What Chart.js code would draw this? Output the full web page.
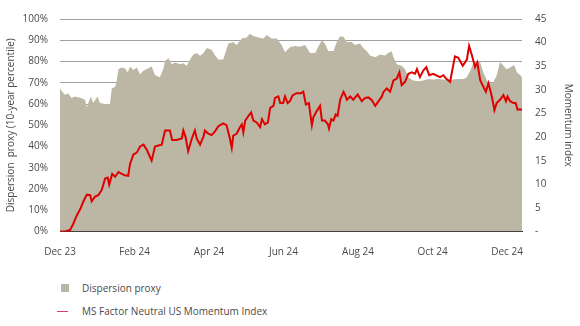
<!DOCTYPE html>
<html>
<head>
<meta charset="utf-8">
<script src="https://cdn.jsdelivr.net/npm/chart.js@4"></script>
<style>
  body { margin: 0; background: #fff; font-family: 'Open Sans', sans-serif; }
  #wrap { position: relative; width: 580px; height: 326px; }
  #chart { display: block; }
  .legend { position: absolute; left: 0; top: 0; font-size: 10px; color: #4a4a4a; }
  .legend .row { position: absolute; white-space: nowrap; line-height: 14px; }
  .legend .box { position: absolute; left: 61px; top: 284px; width: 8px; height: 8px; background: #bcb7a5; }
  .legend .line { position: absolute; left: 57px; top: 311px; width: 11px; height: 1px; background: #d9405a; }
</style>
</head>
<body>
<div id="wrap">
  <canvas id="chart"></canvas>
  <div class="legend">
    <div class="box"></div>
    <div class="row" style="left:82px; top:281px;">Dispersion proxy</div>
    <div class="line"></div>
    <div class="row" style="left:82px; top:304px;">MS Factor Neutral US Momentum Index</div>
  </div>
</div>
<script>
// x positions are months since start of Dec 2023
const tickLabels = ['Dec 23', 'Feb 24', 'Apr 24', 'Jun 24', 'Aug 24', 'Oct 24', 'Dec 24'];

const dispersionMonths = [0.00, 0.05, 0.13, 0.22, 0.31, 0.40, 0.54, 0.67, 0.72, 0.76, 0.83, 0.89, 1.01, 1.07, 1.21, 1.34, 1.39, 1.48, 1.52, 1.57,
    1.64, 1.74, 1.82, 1.88, 1.97, 2.06, 2.15, 2.24, 2.37, 2.46, 2.55, 2.68, 2.77, 2.82, 2.91, 3.00, 3.09, 3.22, 3.31, 3.40,
    3.49, 3.58, 3.67, 3.76, 3.85, 3.94, 4.07, 4.16, 4.25, 4.38, 4.52, 4.65, 4.74, 4.88, 5.01, 5.10, 5.19, 5.32, 5.46, 5.55,
    5.68, 5.82, 5.95, 6.04, 6.17, 6.31, 6.44, 6.58, 6.71, 6.85, 6.93, 7.03, 7.11, 7.20, 7.34, 7.43, 7.52, 7.61, 7.70, 7.83,
    7.92, 8.05, 8.14, 8.23, 8.32, 8.46, 8.59, 8.72, 8.81, 8.90, 8.95, 9.04, 9.17, 9.26, 9.35, 9.48, 9.62, 9.75, 9.89, 10.02,
    10.16, 10.29, 10.42, 10.56, 10.69, 10.83, 10.92, 11.01, 11.10, 11.19, 11.28, 11.36, 11.46, 11.54, 11.63, 11.72, 11.81, 11.90, 11.99, 12.08,
    12.19, 12.26, 12.35, 12.40];
const dispersionValues = [67.4, 66, 64.3, 65, 62.8, 63.5, 63, 62, 58.3, 60.5, 63.5, 60.5, 63.5, 60.5, 60, 60, 67.4, 68, 71, 76.4,
    77.2, 76.8, 75, 77.6, 76, 77.2, 74, 75.6, 76.8, 77.6, 73.7, 72.6, 76.4, 80.2, 81.5, 78.7, 79.5, 78.7, 79.2, 78,
    81, 83.3, 84, 82.7, 84, 86.3, 85.5, 83, 81, 81, 88.5, 89.2, 87.8, 90.8, 91.3, 93.1, 92, 91.3, 90.8, 92.5,
    90.8, 90.8, 87.8, 84.3, 86.7, 87.3, 87, 87.8, 84, 84, 87, 90, 88.5, 85, 85, 89.2, 91.9, 91.5, 89.2, 89.2,
    87.8, 88.5, 86.3, 85, 82.8, 82, 83.3, 82.8, 84, 84.8, 82, 78.7, 78, 76.4, 72.6, 71.1, 70.7, 71.1, 71.8, 71.5,
    71.8, 71.5, 71.1, 71.5, 71.8, 71.8, 72.6, 75.7, 79.5, 80.2, 79.5, 74.9, 71.1, 69.6, 70.4, 73.4, 79.8, 78, 76.4, 77.2,
    78.3, 75, 73.7, 72.6];

const momentumMonths = [0.00, 0.13, 0.27, 0.36, 0.45, 0.54, 0.63, 0.72, 0.81, 0.85, 0.94, 1.03, 1.12, 1.21, 1.28, 1.32, 1.40, 1.48, 1.57, 1.66,
    1.74, 1.83, 1.88, 1.97, 2.06, 2.15, 2.24, 2.33, 2.46, 2.55, 2.64, 2.73, 2.82, 2.95, 3.01, 3.13, 3.27, 3.31, 3.37, 3.44,
    3.54, 3.62, 3.67, 3.76, 3.85, 3.89, 3.98, 4.07, 4.16, 4.25, 4.38, 4.47, 4.56, 4.61, 4.65, 4.74, 4.83, 4.88, 4.92, 4.97,
    5.06, 5.13, 5.19, 5.28, 5.37, 5.42, 5.50, 5.58, 5.64, 5.73, 5.77, 5.86, 5.91, 5.99, 6.04, 6.11, 6.17, 6.24, 6.35, 6.47,
    6.53, 6.60, 6.68, 6.76, 6.80, 6.89, 6.98, 7.03, 7.11, 7.19, 7.22, 7.28, 7.34, 7.40, 7.45, 7.52, 7.61, 7.65, 7.70, 7.79,
    7.87, 7.99, 8.10, 8.19, 8.28, 8.37, 8.46, 8.55, 8.64, 8.68, 8.77, 8.86, 8.95, 9.04, 9.11, 9.17, 9.26, 9.35, 9.44, 9.53,
    9.58, 9.66, 9.75, 9.83, 9.91, 10.02, 10.11, 10.20, 10.29, 10.36, 10.47, 10.60, 10.69, 10.81, 10.92, 10.98, 11.05, 11.14, 11.20, 11.28,
    11.36, 11.43, 11.50, 11.59, 11.66, 11.72, 11.81, 11.90, 11.97, 12.01, 12.08, 12.17, 12.23, 12.28, 12.35, 12.40];
const momentumValues = [0, 0, 0.3, 1.7, 3.4, 4.7, 6.4, 7.8, 7.7, 6.4, 7.4, 7.7, 8.8, 11.2, 11.4, 9.9, 12.2, 11.6, 12.6, 12.2,
    11.9, 11.8, 14.3, 16.3, 16.7, 18.0, 18.4, 17.3, 15.0, 18.0, 18.2, 18.4, 21.4, 21.4, 19.4, 19.4, 19.7, 21.4, 20, 17,
    19.7, 21.4, 19.7, 18.4, 20.1, 21.4, 20.7, 20.4, 21.2, 22.3, 22.9, 22.5, 19.7, 17.7, 20.3, 20.7, 22.1, 22.7, 21, 23.5,
    24.5, 25.2, 23.5, 23.1, 22.1, 23.8, 22.7, 23.1, 26.2, 26.6, 28.3, 28.6, 27.2, 27.2, 28.6, 27.2, 27.6, 28.8, 29.3, 29.3,
    29.6, 26.9, 27.2, 22.5, 24.2, 25.5, 26.6, 23.5, 23.5, 22.7, 21.8, 23.8, 23.5, 24.8, 24.5, 27.9, 29.6, 29, 27.9, 28.6,
    27.9, 29, 27.6, 28.3, 28.4, 27.8, 26.6, 27.6, 28.6, 29.5, 30.3, 29.6, 32, 32.4, 33.7, 31, 31.7, 33.4, 33.7, 33.4,
    34.4, 32.7, 34.1, 34.8, 33.1, 33.4, 33, 32.7, 33.1, 32.4, 31.7, 37.1, 36.8, 35.1, 36.4, 39.3, 37.5, 34.8, 35.8, 32,
    30.7, 29.6, 31.4, 28.6, 25.7, 27.2, 27.9, 28.9, 27.6, 28.6, 27.6, 27.2, 27.2, 25.8, 25.9, 25.7];

const pairs = (xs, ys) => xs.map((x, i) => ({ x, y: ys[i] }));

const font = { family: "'Open Sans', sans-serif", size: 10 };
const textColor = '#4a4a4a';

const canvas = document.getElementById('chart');
canvas.width = 580;
canvas.height = 270;
canvas.style.width = '580px';
canvas.style.height = '270px';

new Chart(canvas, {
    type: 'line',
    data: {
        datasets: [
            {
                label: 'MS Factor Neutral US Momentum Index',
                data: pairs(momentumMonths, momentumValues),
                yAxisID: 'yRight',
                borderColor: '#e00000',
                borderWidth: 2,
                pointRadius: 0,
                fill: false,
                tension: 0,
                order: 0,
            },
            {
                label: 'Dispersion proxy',
                data: pairs(dispersionMonths, dispersionValues),
                yAxisID: 'yLeft',
                backgroundColor: '#bcb7a5',
                borderWidth: 0,
                pointRadius: 0,
                fill: 'origin',
                tension: 0,
                order: 1,
            },
        ],
    },
    options: {
        responsive: false,
        animation: false,
        layout: { padding: { top: 11, left: 0, right: 0, bottom: 0 } },
        plugins: { legend: { display: false }, tooltip: { enabled: false } },
        scales: {
            x: {
                type: 'linear',
                min: 0,
                max: 12.4,
                afterBuildTicks: (axis) => {
                    axis.ticks = tickLabels.map((_, i) => ({ value: i * 2 }));
                },
                afterFit: (axis) => { axis.height = 38.5; },
                ticks: {
                    font, color: textColor, padding: 15, maxRotation: 0,
                    callback: (v) => tickLabels[Math.round(v / 2)],
                },
                grid: { display: false, drawTicks: false },
                border: { color: '#333', width: 1 },
            },
            yLeft: {
                position: 'left',
                min: 0,
                max: 100,
                afterFit: (axis) => { axis.width = 60; },
                ticks: { stepSize: 10, font, color: textColor, padding: 12, callback: (v) => v + '%' },
                grid: { color: '#a0a0a0', lineWidth: 1, drawTicks: false },
                border: { display: false },
                title: {
                    display: true,
                    text: 'Dispersion  proxy (10-year percentile)',
                    font, color: textColor, padding: { top: 5, bottom: 2 },
                },
            },
            yRight: {
                position: 'right',
                min: 0,
                max: 45,
                afterFit: (axis) => { axis.width = 58; },
                ticks: { stepSize: 5, font, color: textColor, padding: 13, callback: (v) => v === 0 ? '-' : v },
                grid: { display: false, drawTicks: false },
                border: { display: false },
                title: {
                    display: true,
                    text: 'Momentum index',
                    font, color: textColor, padding: { top: 6, bottom: 0 },
                },
            },
        },
    },
});
</script>
</body>
</html>
